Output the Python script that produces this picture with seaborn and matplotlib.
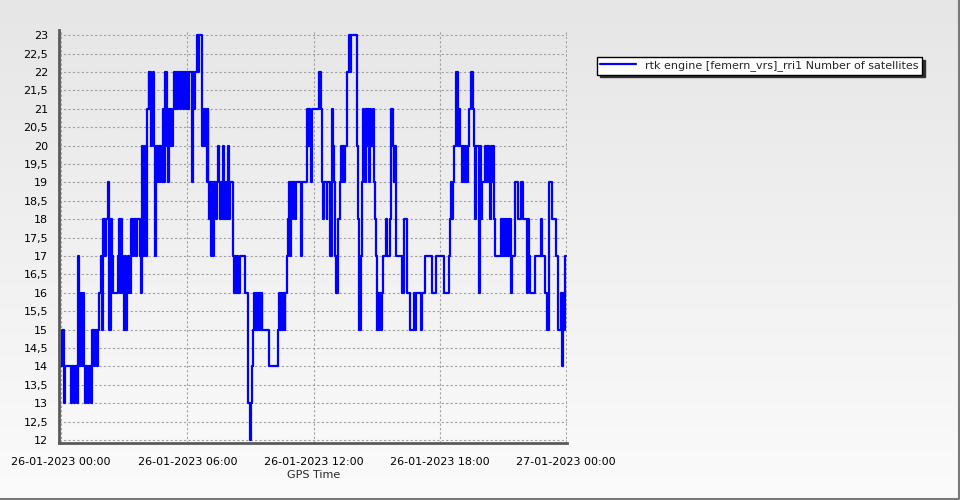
import numpy as np
import pandas as pd
import matplotlib
matplotlib.use('Agg')
import matplotlib.pyplot as plt
import matplotlib.dates as mdates
from matplotlib.colors import LinearSegmentedColormap
from matplotlib.lines import Line2D
from matplotlib.ticker import FuncFormatter, MultipleLocator, FixedLocator
import seaborn as sns

# step changes of the satellite count, hours after 26-01-2023 00:00
switch_hours = [
    0.00, 0.05, 0.15, 0.20, 0.45, 0.50, 0.60, 0.65, 0.75, 0.80, 0.85, 0.88, 0.92, 0.95,
    1.00, 1.05, 1.10, 1.15, 1.20, 1.28, 1.35, 1.40, 1.45, 1.55, 1.62, 1.70, 1.75, 1.80,
    1.90, 1.95, 2.00, 2.10, 2.15, 2.22, 2.27, 2.30, 2.35, 2.42, 2.48, 2.70, 2.75, 2.80,
    2.85, 2.90, 2.95, 3.00, 3.05, 3.10, 3.15, 3.20, 3.25, 3.30, 3.40, 3.45, 3.55, 3.60,
    3.75, 3.80,
    3.85, 3.88, 3.92, 3.96, 4.00, 4.03, 4.06, 4.10, 4.16, 4.20, 4.24, 4.28, 4.32, 4.36,
    4.40, 4.45, 4.50, 4.56, 4.62, 4.68, 4.72, 4.78, 4.82, 4.87, 4.92, 4.96, 5.02, 5.06,
    5.10, 5.14, 5.18, 5.22, 5.28, 5.32, 5.36, 5.42, 5.46, 5.52, 5.56, 5.64, 5.70, 5.78,
    5.84, 5.92, 5.98, 6.05, 6.10, 6.20, 6.25, 6.30, 6.36, 6.45, 6.52, 6.56, 6.70, 6.74,
    6.80, 6.84, 6.88, 6.92, 6.96, 7.00, 7.04, 7.08, 7.12, 7.16, 7.20, 7.24, 7.28, 7.34,
    7.40, 7.45, 7.50, 7.56, 7.62, 7.66, 7.70, 7.76, 7.84,
    7.88, 7.92, 7.97, 8.02, 8.19, 8.23, 8.27, 8.31, 8.36, 8.40, 8.51, 8.76, 8.86, 8.90,
    8.96, 9.04, 9.08, 9.12, 9.17, 9.20, 9.24, 9.30, 9.34, 9.40, 9.44, 9.50, 9.54, 9.56,
    9.88, 10.30, 10.35, 10.40, 10.45, 10.50, 10.55, 10.62, 10.66, 10.72, 10.76, 10.84,
    10.88, 10.92, 10.98, 11.02, 11.10, 11.14, 11.38, 11.42, 11.46, 11.70, 11.74, 11.78,
    11.84, 11.88, 11.92,
    12.27, 12.34, 12.39, 12.44, 12.48, 12.62, 12.66, 12.80, 12.88, 12.93, 12.98, 13.02,
    13.06, 13.18, 13.24, 13.28, 13.33, 13.38, 13.44, 13.50, 13.58, 13.66, 13.72, 13.76,
    14.06, 14.10, 14.14, 14.18, 14.26, 14.30, 14.36, 14.40, 14.44, 14.48, 14.54, 14.58,
    14.64, 14.68, 14.74, 14.80, 14.86, 14.92, 14.96, 15.00, 15.06, 15.10, 15.14, 15.18,
    15.26, 15.32, 15.42, 15.50, 15.62, 15.70, 15.76, 15.80, 15.84, 15.90,
    16.22, 16.30, 16.43, 16.58, 16.78, 16.82, 16.86, 17.09, 17.17, 17.28, 17.64, 17.84,
    18.18, 18.42, 18.48, 18.52, 18.58, 18.62, 18.68, 18.78, 18.84, 18.88, 18.93, 18.98,
    19.04, 19.08, 19.14, 19.20, 19.26, 19.32, 19.38, 19.46, 19.56, 19.62, 19.66, 19.72,
    19.88, 19.92, 19.96,
    19.98, 20.14, 20.20, 20.26, 20.32, 20.38, 20.42, 20.48, 20.54, 20.58, 20.64, 20.90,
    20.94, 21.00, 21.04, 21.09, 21.14, 21.18, 21.24, 21.30, 21.36, 21.40, 21.43, 21.56,
    21.69, 21.85, 21.96, 22.14, 22.18, 22.22, 22.28, 22.51, 22.82, 22.86, 22.98, 23.07,
    23.18, 23.34, 23.50, 23.62, 23.75, 23.80, 23.84, 23.88, 23.96, 24.00,
]
n_satellites = [
    14, 15, 13, 14, 13, 14, 13, 14, 13, 17, 14, 16, 14, 16,
    14, 16, 14, 13, 14, 13, 14, 13, 15, 14, 15, 14, 15, 16,
    17, 15, 18, 17, 18, 19, 18, 15, 18, 17, 16, 17, 18, 16,
    18, 17, 16, 15, 17, 15, 16, 17, 16, 18, 17, 18, 17, 18,
    17, 16,
    20, 17, 19, 18, 20, 17, 19, 21, 22, 21, 22, 20, 21, 22,
    20, 17, 20, 19, 20, 19, 20, 19, 21, 19, 20, 22, 20, 21,
    19, 21, 20, 21, 20, 21, 22, 21, 22, 21, 22, 21, 22, 21,
    22, 21, 22, 21, 22, 19, 22, 21, 22, 23, 22, 23, 20, 21,
    20, 21, 20, 19, 21, 19, 18, 19, 17, 19, 18, 17, 19, 18,
    19, 20, 19, 18, 19, 18, 20, 18, 19,
    18, 20, 18, 19, 17, 16, 17, 16, 17, 16, 17, 16, 15, 13,
    12, 13, 14, 15, 16, 15, 16, 15, 16, 15, 16, 15, 16, 15,
    14, 15, 16, 15, 16, 15, 16, 15, 16, 17, 18, 19,
    17, 19, 18, 19, 18, 19, 18, 17, 19, 21, 20, 21,
    20, 19, 21,
    22, 21, 19, 18, 19, 18, 19, 17, 21, 20, 19, 17,
    16, 18, 19, 20, 19, 20, 19, 20, 22, 23, 22, 23,
    20, 18, 16, 15, 17, 19, 21, 20, 19, 21, 20, 21,
    19, 21, 20, 21, 19, 18, 17, 15, 16, 15, 16, 15,
    16, 17, 18, 17, 18, 21, 20, 19, 20, 17,
    16, 18, 16, 15, 16, 15, 16, 15, 16, 17, 16, 17,
    16, 17, 18, 19, 18, 19, 20, 22, 21, 20, 21, 20,
    19, 20, 19, 20, 19, 20, 21, 22, 21, 20, 18, 20,
    16, 20, 18,
    19, 20, 19, 20, 19, 18, 20, 19, 20, 18, 17, 18,
    17, 18, 17, 18, 17, 18, 17, 18, 17, 16, 17, 19,
    18, 19, 18, 16, 18, 17, 16, 17, 18, 17, 16, 15,
    19, 18, 17, 15, 16, 14, 16, 15, 17, 17,
]
series_label = 'rtk engine [femern_vrs]_rri1 Number of satellites'
start = pd.Timestamp('2023-01-26 00:00')

df = pd.DataFrame({
    'GPS Time': start + pd.to_timedelta(switch_hours, unit='h'),
    'sats': n_satellites,
})

sns.set_style('white')
plt.rcParams['font.family'] = ['DejaVu Sans']

fig = plt.figure(figsize=(9.6, 5), dpi=100)

# grey to white background over the whole picture
bg = fig.add_axes([0, 0, 1, 1], zorder=-2)
grad = np.linspace(0, 1, 256).reshape(-1, 1)
bg.imshow(grad, aspect='auto', extent=[0, 1, 0, 1],
          cmap=LinearSegmentedColormap.from_list('bg', ['#e6e6e6', '#fbfbfb']))
bg.axis('off')
# dark frame only along the bottom and right edge
fig.lines.append(Line2D([0, 0.999, 0.999], [0.002, 0.002, 1], transform=fig.transFigure,
                        color='#7a7a7a', linewidth=1.5))

ax = fig.add_axes([0.0618, 0.114, 0.529, 0.826])
ax.patch.set_alpha(0)

sns.lineplot(data=df, x='GPS Time', y='sats', drawstyle='steps-post', color='#0000ff',
             linewidth=1.6, label=series_label, ax=ax)

ax.set_xlim(start - pd.Timedelta(minutes=5), start + pd.Timedelta(hours=24, minutes=3))
ax.set_ylim(11.92, 23.14)

ax.xaxis.set_major_locator(mdates.HourLocator(byhour=[0, 6, 12, 18]))
ax.xaxis.set_major_formatter(mdates.DateFormatter('%d-%m-%Y %H:%M'))
minor_x = [mdates.date2num(start + pd.Timedelta(minutes=90 * i)) for i in range(17)]
ax.xaxis.set_minor_locator(FixedLocator(minor_x))

ax.yaxis.set_major_locator(MultipleLocator(0.5))
ax.yaxis.set_minor_locator(MultipleLocator(0.1))
ax.yaxis.set_major_formatter(FuncFormatter(lambda v, p: f'{v:g}'.replace('.', ',')))

ax.grid(True, which='major', color='#a0a0a0', linestyle=(0, (2, 2)), linewidth=0.8)
for side in ['top', 'right']:
    ax.spines[side].set_visible(False)
for side in ['left', 'bottom']:
    ax.spines[side].set_color('#5a5a5a')
    ax.spines[side].set_linewidth(2)

ax.tick_params(axis='both', which='major', direction='out', length=4, width=0.8,
               color='#808080', labelsize=8, labelcolor='black', pad=4)
ax.tick_params(axis='both', which='minor', direction='out', length=2, width=0.6,
               color='#909090')
ax.tick_params(axis='x', which='major', pad=6)

ax.set_xlabel('GPS Time', fontsize=8, labelpad=2)
ax.set_ylabel('')

ax.legend(loc='upper left', bbox_to_anchor=(0.622, 0.886), bbox_transform=fig.transFigure,
          fontsize=8, frameon=True, fancybox=False,
          shadow={'color': '#303030', 'alpha': 1}, edgecolor='black',
          facecolor='white', framealpha=1, handlelength=3.2, borderpad=0.3,
          borderaxespad=0)

fig.savefig('out.png', dpi=100)
